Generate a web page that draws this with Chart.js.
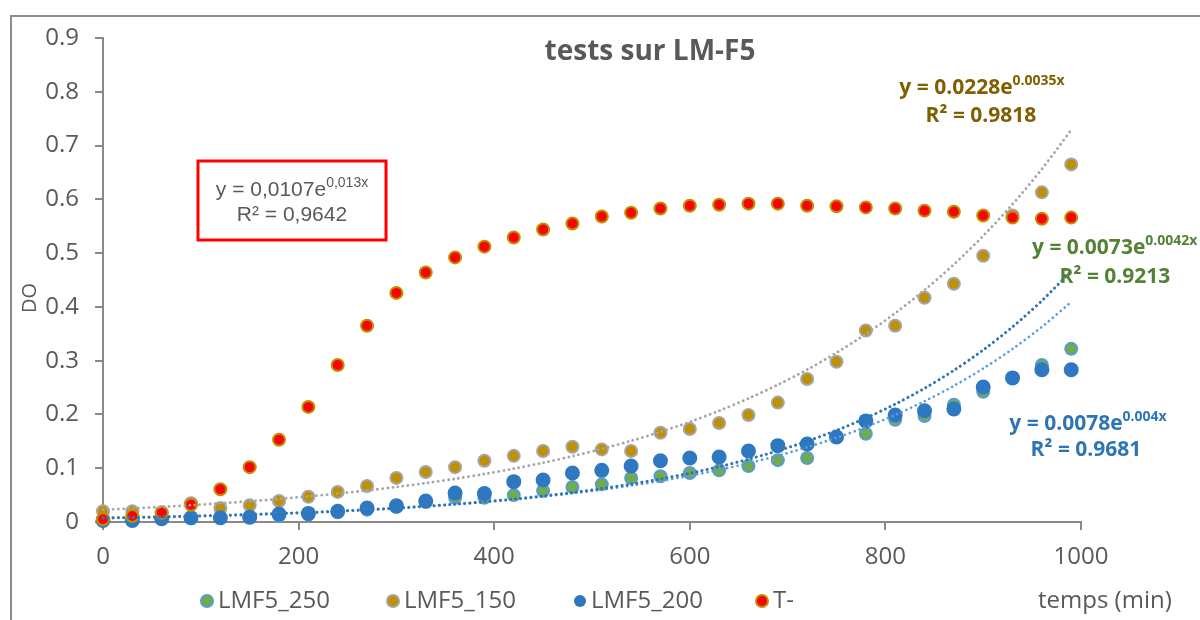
<!DOCTYPE html>
<html lang="fr">
<head>
<meta charset="utf-8">
<title>tests sur LM-F5</title>
<script src="https://cdn.jsdelivr.net/npm/chart.js@4.4.1/dist/chart.umd.min.js"></script>
<style>
  html, body { margin: 0; padding: 0; background: #fff; }
  #wrap { width: 1200px; height: 620px; }
</style>
</head>
<body>
<div id="wrap"><canvas id="doChart" width="1200" height="620"></canvas></div>
<script>
// temps de mesure (min)
var TIME = [0,30,60,90,120,150,180,210,240,270,300,330,360,390,420,450,480,510,540,570,600,630,660,690,720,750,780,810,840,870,900,930,960,990];

// DO mesurées
var LMF5_250 = [0.004,0.004,0.006,0.007,0.008,0.009,0.012,0.014,0.018,0.023,0.028,0.037,0.045,0.045,0.050,0.058,0.065,0.070,0.082,0.085,0.091,0.096,0.104,0.115,0.119,0.158,0.164,0.190,0.197,0.218,0.242,0.268,0.292,0.322];
var LMF5_150 = [0.020,0.020,0.018,0.035,0.026,0.031,0.039,0.047,0.056,0.067,0.082,0.093,0.102,0.114,0.123,0.132,0.140,0.135,0.132,0.166,0.173,0.184,0.199,0.222,0.266,0.298,0.356,0.365,0.417,0.443,0.495,0.570,0.613,0.665];
var LMF5_200 = [0.003,0.003,0.006,0.008,0.008,0.009,0.015,0.016,0.020,0.026,0.030,0.039,0.054,0.053,0.075,0.078,0.091,0.096,0.104,0.114,0.119,0.121,0.132,0.142,0.145,0.158,0.188,0.199,0.207,0.210,0.251,0.268,0.283,0.283];
var T_MINUS  = [0.005,0.011,0.017,0.032,0.061,0.102,0.153,0.214,0.292,0.365,0.426,0.464,0.492,0.512,0.529,0.544,0.555,0.568,0.575,0.583,0.588,0.590,0.592,0.592,0.588,0.587,0.585,0.583,0.579,0.577,0.570,0.566,0.564,0.566];

// courbes de tendance exponentielles y = a e^(kx) : LMF5_150, LMF5_250, LMF5_200
var TREND_NAMES = ['LMF5_150','LMF5_250','LMF5_200'];
var TREND_A  = [0.0228, 0.0073, 0.0078];
var TREND_K  = [0.0035, 0.0042, 0.004];
var TREND_R2 = ['0.9818', '0.9213', '0.9681'];

// tendance T- (affichée seulement dans l'encadré)
var T_TREND = ['0,0107', '0,013', '0,9642'];

var X_TICKS = [0,200,400,600,800,1000];
var Y_TICKS = [0,0.1,0.2,0.3,0.4,0.5,0.6,0.7,0.8,0.9];

var TXT = '#595959';
var AXIS = '#898989';

function pts(ys){
  var out = [];
  for(var i=0;i<TIME.length;i++){ out.push({x: TIME[i], y: ys[i]}); }
  return out;
}

function trendPts(j){
  var out = [];
  for(var i=0;i<TIME.length;i++){
    out.push({x: TIME[i], y: TREND_A[j]*Math.exp(TREND_K[j]*TIME[i])});
  }
  return out;
}

function drawEq(c, x, y, main, sup, f1, f2, col, align){
  c.font = f1; var w1 = c.measureText(main).width;
  c.font = f2; var w2 = c.measureText(sup).width;
  var x0 = align === 'center' ? x - (w1 + w2)/2 : x;
  c.fillStyle = col; c.textAlign = 'left'; c.textBaseline = 'middle';
  c.font = f1; c.fillText(main, x0, y);
  c.font = f2; c.fillText(sup, x0 + w1, y - 7);
}

var decor = {
  id: 'decor',
  beforeDraw: function(chart){
    var c = chart.ctx;
    c.save();
    c.fillStyle = '#fff';
    c.fillRect(0, 0, chart.width, chart.height);
    c.strokeStyle = '#8c8c8c';
    c.lineWidth = 2;
    c.beginPath();
    c.moveTo(11, chart.height); c.lineTo(11, 16); c.lineTo(chart.width, 16);
    c.stroke();
    c.restore();
  },
  afterDraw: function(chart){
    var c = chart.ctx;
    c.save();

    // titre
    c.fillStyle = TXT; c.textAlign = 'center'; c.textBaseline = 'middle';
    c.font = 'bold 28px "Open Sans"';
    c.fillText('tests sur LM-F5', 650, 52);

    // titre axe Y
    c.save();
    c.translate(30, 298); c.rotate(-Math.PI/2);
    c.font = '20px "Open Sans"';
    c.fillText('DO', 0, 0);
    c.restore();

    // légende
    var xs = [207, 393, 580, 762];
    var ds = chart.data.datasets;
    c.font = '24px "Open Sans"'; c.textAlign = 'left';
    for(var i=0;i<4;i++){
      var d = ds[i];
      c.beginPath();
      c.arc(xs[i], 601, 6, 0, Math.PI*2);
      c.fillStyle = d.backgroundColor; c.fill();
      if(d.borderWidth){ c.lineWidth = d.borderWidth; c.strokeStyle = d.borderColor; c.stroke(); }
      c.fillStyle = TXT;
      c.fillText(d.label, xs[i] + 11, 601);
    }
    c.fillText('temps (min)', 1038, 601);

    // équations des tendances
    var fB = 'bold 21px "Open Sans"', fS = 'bold 14px "Open Sans"';
    drawEq(c, 982, 88, 'y = ' + TREND_A[0] + 'e', TREND_K[0] + 'x', fB, fS, '#7f6000', 'center');
    c.fillStyle = '#7f6000'; c.font = fB; c.textAlign = 'center';
    c.fillText('R\u00b2 = ' + TREND_R2[0], 981, 116);

    drawEq(c, 1032, 248, 'y = ' + TREND_A[1] + 'e', TREND_K[1] + 'x', fB, fS, '#548235', 'left');
    c.fillStyle = '#548235'; c.font = fB; c.textAlign = 'center';
    c.fillText('R\u00b2 = ' + TREND_R2[1], 1115, 277);

    drawEq(c, 1088, 424, 'y = ' + TREND_A[2] + 'e', TREND_K[2] + 'x', fB, fS, '#2e75b6', 'center');
    c.fillStyle = '#2e75b6'; c.font = fB; c.textAlign = 'center';
    c.fillText('R\u00b2 = ' + TREND_R2[2], 1086, 450);

    // encadré T-
    c.strokeStyle = '#ff0000'; c.lineWidth = 3;
    c.strokeRect(198, 161, 188, 79);
    drawEq(c, 292, 190, 'y = ' + T_TREND[0] + 'e', T_TREND[1] + 'x', '21px "Liberation Sans"', '14px "Liberation Sans"', TXT, 'center');
    c.fillStyle = TXT; c.font = '21px "Liberation Sans"'; c.textAlign = 'center';
    c.fillText('R\u00b2 = ' + T_TREND[2], 292, 215);

    c.restore();
  }
};

function scatterSet(label, ys, fill, border, bw, r, order){
  return {
    label: label, data: pts(ys), showLine: false,
    backgroundColor: fill, borderColor: border, borderWidth: bw,
    pointRadius: r, pointHoverRadius: r, order: order, clip: false
  };
}

function trendSet(j, color, w){
  return {
    label: 'tendance ' + TREND_NAMES[j], data: trendPts(j), showLine: true,
    borderColor: color, borderWidth: w, borderDash: [0.1, 5], borderCapStyle: 'round',
    pointRadius: 0, fill: false, tension: 0.3, order: 0, clip: false
  };
}

var ctx = document.getElementById('doChart').getContext('2d');
new Chart(ctx, {
  type: 'scatter',
  data: {
    datasets: [
      scatterSet('LMF5_250', LMF5_250, '#70ad47', '#5b9bd5', 2, 6, 4),
      scatterSet('LMF5_150', LMF5_150, '#bf9000', '#a5a5a5', 2, 6, 3),
      scatterSet('LMF5_200', LMF5_200, '#2e78c2', '#2e78c2', 0, 7.5, 2),
      scatterSet('T-', T_MINUS, '#ff0000', '#bf9000', 2, 6, 1),
      trendSet(0, '#a5a5a5', 2.8),
      trendSet(1, '#2e75b6', 3),
      trendSet(2, '#5b9bd5', 2.6)
    ]
  },
  options: {
    responsive: false,
    animation: false,
    events: [],
    layout: { padding: { left: 40, top: 38, right: 119, bottom: 0 } },
    plugins: { legend: { display: false }, title: { display: false }, tooltip: { enabled: false } },
    scales: {
      x: {
        type: 'linear', min: 0, max: 1000,
        afterBuildTicks: function(s){ s.ticks = X_TICKS.map(function(v){ return {value: v}; }); },
        afterFit: function(s){ s.height = 98; },
        grid: { display: true, drawOnChartArea: false, drawTicks: true, tickLength: 8, color: AXIS, lineWidth: 2 },
        border: { display: true, color: AXIS, width: 2 },
        ticks: {
          color: TXT, font: { family: 'Open Sans', size: 24 }, padding: 13, maxRotation: 0,
          callback: function(v){ return String(v); }
        }
      },
      y: {
        type: 'linear', min: 0, max: 0.9,
        afterBuildTicks: function(s){ s.ticks = Y_TICKS.map(function(v){ return {value: v}; }); },
        afterFit: function(s){ s.width = 63; },
        grid: { display: true, drawOnChartArea: false, drawTicks: true, tickLength: 8, color: AXIS, lineWidth: 2 },
        border: { display: true, color: AXIS, width: 2 },
        ticks: {
          color: TXT, font: { family: 'Open Sans', size: 24 }, padding: 16,
          callback: function(v){ return v === 0 ? '0' : v.toFixed(1); }
        }
      }
    }
  },
  plugins: [decor]
});
</script>
</body>
</html>
